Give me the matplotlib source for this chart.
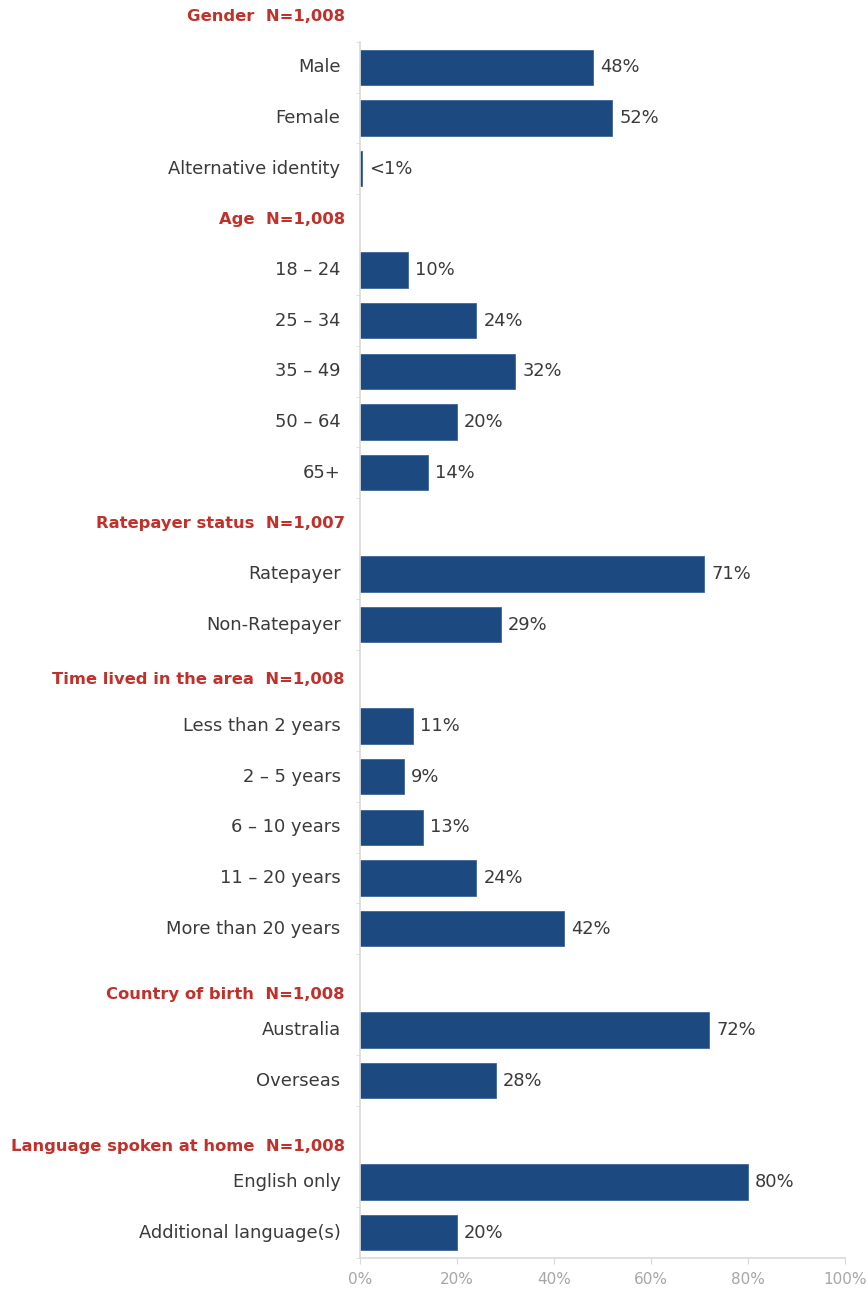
import matplotlib.pyplot as plt
from matplotlib.ticker import FixedLocator, PercentFormatter

# sections of the profile chart
headers = ["Gender  N=1,008", "Age  N=1,008", "Ratepayer status  N=1,007",
           "Time lived in the area  N=1,008", "Country of birth  N=1,008",
           "Language spoken at home  N=1,008"]
labels = [
    ["Male", "Female", "Alternative identity"],
    ["18 \u2013 24", "25 \u2013 34", "35 \u2013 49", "50 \u2013 64", "65+"],
    ["Ratepayer", "Non-Ratepayer"],
    ["Less than 2 years", "2 \u2013 5 years", "6 \u2013 10 years", "11 \u2013 20 years",
     "More than 20 years"],
    ["Australia", "Overseas"],
    ["English only", "Additional language(s)"],
]
values = [
    [48, 52, 0.4],
    [10, 24, 32, 20, 14],
    [71, 29],
    [11, 9, 13, 24, 42],
    [72, 28],
    [80, 20],
]
value_text = [
    ["48%", "52%", "<1%"],
    ["10%", "24%", "32%", "20%", "14%"],
    ["71%", "29%"],
    ["11%", "9%", "13%", "24%", "42%"],
    ["72%", "28%"],
    ["80%", "20%"],
]
# small downward nudge (points) of some headers, as in the original
header_nudge = [0, 0, 0, -3, -11, -11]

bar_color = "#1c4a80"
head_color = "#c0312b"
text_color = "#3a3a3a"
axis_color = "#d9d9d9"

plt.rcParams['font.family'] = ['DejaVu Sans']

fig = plt.figure(figsize=(8.68, 12.91), dpi=100)
ax = fig.add_axes([0.4147, 0.0256, 0.559, 0.9419])

pos = 0
bar_pos = []
for h, labs, vals, txts, nud in zip(headers, labels, values, value_text, header_nudge):
    ax.annotate(h, xy=(0, pos), xycoords=('axes fraction', 'data'),
                xytext=(-11, nud), textcoords='offset points',
                ha='right', va='center', fontsize=11.8, fontweight='bold',
                color=head_color, annotation_clip=False)
    pos += 1
    for lab, v, t in zip(labs, vals, txts):
        ax.barh(pos, v, height=0.7, color=bar_color, edgecolor="#3d6699",
                linewidth=0.6)
        ax.annotate(lab, xy=(0, pos), xycoords=('axes fraction', 'data'),
                    xytext=(-14, 0), textcoords='offset points',
                    ha='right', va='center', fontsize=12.9, color=text_color)
        ax.annotate(t, xy=(v, pos), xytext=(5, 0), textcoords='offset points',
                    ha='left', va='center', fontsize=12.9, color=text_color)
        bar_pos.append(pos)
        pos += 1

ax.set_xlim(0, 100)
ax.set_ylim(pos - 0.5, 0.5)
ax.set_yticks([])
ax.yaxis.set_minor_locator(FixedLocator([p + 0.5 for p in bar_pos] + [bar_pos[0] - 0.5]))
ax.tick_params(axis='y', which='minor', length=3, color=axis_color)
ax.set_xticks(range(0, 101, 20))
ax.xaxis.set_major_formatter(PercentFormatter(decimals=0))
ax.tick_params(axis='x', length=4, color=axis_color, labelcolor="#a6a6a6",
               labelsize=11, pad=6)
for s in ['top', 'right']:
    ax.spines[s].set_visible(False)
for s in ['left', 'bottom']:
    ax.spines[s].set_color(axis_color)
    ax.spines[s].set_linewidth(1.2)

fig.savefig("out.png", dpi=100)
